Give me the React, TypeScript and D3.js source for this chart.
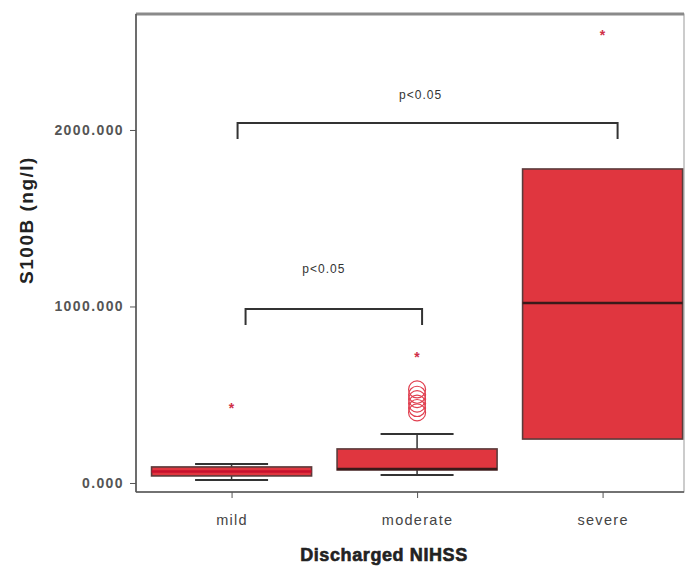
import React, { useRef, useEffect } from 'react';
import * as d3 from 'd3';

// ==================== DATA ====================
const categories = ['mild', 'moderate', 'severe'];
const whiskerLow = [17, 45, 249];
const q1 = [40, 74, 249];
const medians = [65, 80, 1020];
const q3 = [91, 193, 1779];
const whiskerHigh = [108, 278, 1779];
// circles = outliers, stars = extreme values
const circleOutliers = [[], [400, 425, 450, 475, 500, 530], []];
const starOutliers = [[436], [725], [2550]];
const yTicks = [0, 1000, 2000];
const brackets = [
  { from: 'mild', to: 'moderate', value: 986, label: 'p<0.05' },
  { from: 'mild', to: 'severe', value: 2040, label: 'p<0.05' },
];
// bracket drawing tweaks (pixels): end nudges, label gap and shift
const bracketStyle = [
  { dx0: 14, dx1: 5, gap: 40, shift: -10 },
  { dx0: 6, dx1: 15, gap: 28, shift: -7 },
];

const W = 688;
const H = 568;
const M = { left: 136, right: 684, top: 14, bottom: 492 };
const RED = '#e0363f';
const FONT = "'Liberation Sans', Arial, sans-serif";

const App = () => {
  const svgRef = useRef<SVGSVGElement | null>(null);

  useEffect(() => {
    document.body.style.margin = '0';
    const svg = d3.select(svgRef.current);
    svg.selectAll('*').remove();

    const x = d3.scalePoint<string>()
      .domain(categories)
      .range([M.left, M.right])
      .padding(0.477)
      .align(0.54);
    const y = d3.scaleLinear().domain([-51, 2657]).range([M.bottom, M.top]);
    const boxW = 160;
    const capW = 73;

    const g = svg.append('g');

    // frame
    g.append('rect')
      .attr('x', M.left).attr('y', M.top)
      .attr('width', M.right - M.left).attr('height', M.bottom - M.top)
      .attr('fill', 'none').attr('stroke', '#999').attr('stroke-width', 1);
    g.append('line')
      .attr('x1', M.left).attr('x2', M.right).attr('y1', M.top).attr('y2', M.top)
      .attr('stroke', '#8a8a8a').attr('stroke-width', 3);
    g.append('line')
      .attr('x1', M.left).attr('x2', M.left).attr('y1', M.top).attr('y2', M.bottom)
      .attr('stroke', '#555').attr('stroke-width', 1.6);
    g.append('line')
      .attr('x1', M.left).attr('x2', M.right).attr('y1', M.bottom).attr('y2', M.bottom)
      .attr('stroke', '#555').attr('stroke-width', 1.6);

    // y axis
    const yAxis = g.append('g').attr('transform', `translate(${M.left},0)`)
      .call(d3.axisLeft(y).tickValues(yTicks).tickSize(6).tickPadding(6).tickFormat(d3.format('.3f')));
    yAxis.select('.domain').remove();
    yAxis.selectAll('line').attr('stroke', '#555');
    yAxis.selectAll('text')
      .attr('font-family', FONT).attr('font-size', 14).attr('font-weight', 'bold')
      .attr('letter-spacing', 1.4).attr('fill', '#555');

    // x axis
    const xAxis = g.append('g').attr('transform', `translate(0,${M.bottom})`)
      .call(d3.axisBottom(x).tickSize(6).tickPadding(17));
    xAxis.select('.domain').remove();
    xAxis.selectAll('line').attr('stroke', '#555');
    xAxis.selectAll('text')
      .attr('font-family', FONT).attr('font-size', 14.5).attr('letter-spacing', 1.3).attr('fill', '#444');

    // axis titles
    g.append('text')
      .attr('transform', `translate(33,220) rotate(-90)`)
      .attr('text-anchor', 'middle')
      .attr('font-family', FONT).attr('font-size', 19).attr('font-weight', 'bold').attr('fill', '#222')
      .attr('letter-spacing', 1.5)
      .text('S100B (ng/l)');
    g.append('text')
      .attr('x', 384).attr('y', 561)
      .attr('text-anchor', 'middle')
      .attr('font-family', FONT).attr('font-size', 18).attr('font-weight', 'bold').attr('fill', '#222')
      .attr('stroke', '#222').attr('stroke-width', 0.6)
      .attr('letter-spacing', 0.6)
      .text('Discharged NIHSS');

    // boxes
    categories.forEach((c, i) => {
      const cx = x(c) as number;
      const bg = g.append('g');
      if (whiskerHigh[i] > q3[i]) {
        bg.append('line').attr('x1', cx).attr('x2', cx).attr('y1', y(q3[i])).attr('y2', y(whiskerHigh[i]))
          .attr('stroke', '#333').attr('stroke-width', 1.5);
        bg.append('line').attr('x1', cx - capW / 2).attr('x2', cx + capW / 2)
          .attr('y1', y(whiskerHigh[i])).attr('y2', y(whiskerHigh[i]))
          .attr('stroke', '#333').attr('stroke-width', 2);
      }
      if (whiskerLow[i] < q1[i]) {
        bg.append('line').attr('x1', cx).attr('x2', cx).attr('y1', y(q1[i])).attr('y2', y(whiskerLow[i]))
          .attr('stroke', '#333').attr('stroke-width', 1.5);
        bg.append('line').attr('x1', cx - capW / 2).attr('x2', cx + capW / 2)
          .attr('y1', y(whiskerLow[i])).attr('y2', y(whiskerLow[i]))
          .attr('stroke', '#333').attr('stroke-width', 2);
      }
      bg.append('rect')
        .attr('x', cx - boxW / 2).attr('width', boxW)
        .attr('y', y(q3[i])).attr('height', y(q1[i]) - y(q3[i]))
        .attr('fill', RED).attr('stroke', '#5b3b3b').attr('stroke-width', 1.6);
      bg.append('line')
        .attr('x1', cx - boxW / 2).attr('x2', cx + boxW / 2)
        .attr('y1', y(medians[i])).attr('y2', y(medians[i]))
        .attr('stroke', i === 0 ? '#c8102e' : '#3a1a1a').attr('stroke-width', 2.5);

      // outliers
      bg.selectAll('.circ').data(circleOutliers[i]).enter().append('circle')
        .attr('cx', cx).attr('cy', d => y(d)).attr('r', 8.5)
        .attr('fill', 'none').attr('stroke', '#e04050').attr('stroke-width', 1.2);
      bg.selectAll('.star').data(starOutliers[i]).enter().append('text')
        .attr('x', cx).attr('y', d => y(d) + 7)
        .attr('text-anchor', 'middle')
        .attr('font-family', FONT).attr('font-size', 14).attr('font-weight', 'bold').attr('fill', '#d03048')
        .text('*');
    });

    // significance brackets
    brackets.forEach((b, i) => {
      const s = bracketStyle[i];
      const x0 = (x(b.from) as number) + s.dx0;
      const x1 = (x(b.to) as number) + s.dx1;
      const yy = y(b.value);
      g.append('path')
        .attr('d', `M${x0},${yy + 16} V${yy} H${x1} V${yy + 16}`)
        .attr('fill', 'none').attr('stroke', '#333').attr('stroke-width', 2);
      g.append('text')
        .attr('x', (x0 + x1) / 2 + s.shift).attr('y', yy - s.gap + 4)
        .attr('text-anchor', 'middle')
        .attr('font-family', FONT).attr('font-size', 12).attr('letter-spacing', 1)
        .attr('fill', '#333')
        .text(b.label);
    });
  }, []);

  return (
    <svg ref={svgRef} width={W} height={H} style={{ display: 'block', background: '#fff' }} />
  );
};

export default App;
